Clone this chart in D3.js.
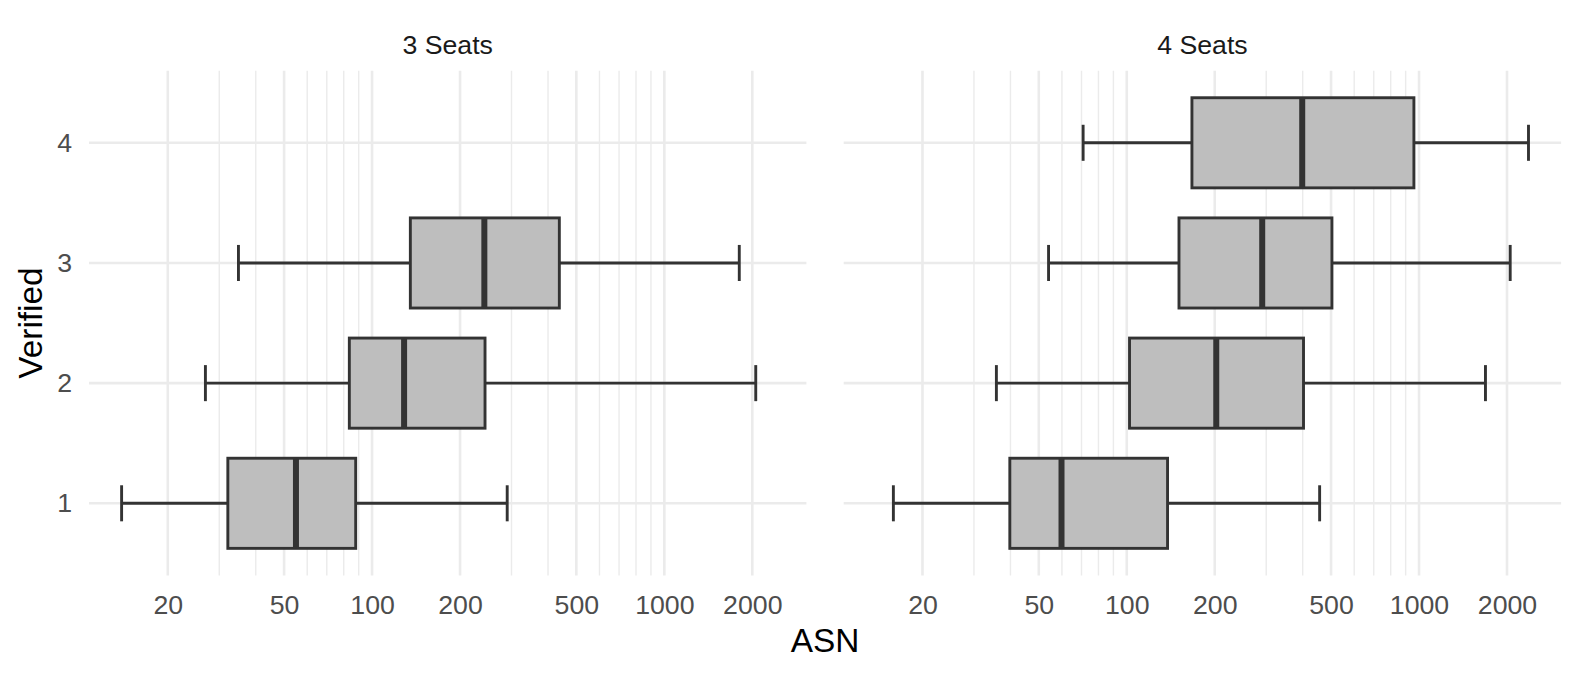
<!DOCTYPE html>
<html>
<head>
<meta charset="utf-8">
<script src="https://cdn.jsdelivr.net/npm/d3@7"></script>
<style>
  html, body { margin: 0; padding: 0; background: #ffffff; }
  svg { display: block; font-family: "Liberation Sans", Arial, Helvetica, sans-serif; }
</style>
</head>
<body>
<svg id="chart" width="1578" height="676"></svg>
<script>
// ---- Data ----
const panels = ["3 Seats", "4 Seats"];
const verifiedLevels = ["1", "2", "3", "4"];

// 3 Seats (Verified 1..3)
const s3Cats = ["1", "2", "3"];
const s3Low  = [13.9, 26.9, 34.9];
const s3Q1   = [32.1, 83.6, 135.2];
const s3Med  = [54.9, 128.7, 242.2];
const s3Q3   = [87.9, 243.5, 437.3];
const s3High = [290, 2055, 1805];

// 4 Seats (Verified 1..4)
const s4Cats = ["1", "2", "3", "4"];
const s4Low  = [15.9, 35.8, 54.0, 70.9];
const s4Q1   = [39.8, 102.2, 150.9, 167.1];
const s4Med  = [59.8, 202.4, 290.7, 398.4];
const s4Q3   = [137.9, 402.5, 503.5, 960.5];
const s4High = [457, 1688, 2051, 2369];

const majorTicks = [20, 50, 100, 200, 500, 1000, 2000];
const minorTicks = [30, 40, 60, 70, 80, 90, 300, 400, 600, 700, 800, 900];

const xTitle = "ASN";
const yTitle = "Verified";

// ---- Layout ----
const svg = d3.select("#chart");
const panelLeft = [89, 843.7];
const panelW = 717.4;
const panelTop = 70.7, panelBottom = 575.4;
const tickFont = 26.7, titleFont = 33.4;
const boxFill = "#BEBEBE", ink = "#333333", grid = "#EBEBEB";
const lineW = 2.9, medW = 6;

function build(cats, lo, q1, med, q3, hi) {
  return cats.map((c, i) => ({ cat: c, lo: lo[i], q1: q1[i], med: med[i], q3: q3[i], hi: hi[i] }));
}
const panelData = [
  build(s3Cats, s3Low, s3Q1, s3Med, s3Q3, s3High),
  build(s4Cats, s4Low, s4Q1, s4Med, s4Q3, s4High)
];

// shared log domain with 5% expansion (in log space)
const allVals = panelData.flat().flatMap(d => [d.lo, d.hi]);
const lmin = Math.log10(d3.min(allVals)), lmax = Math.log10(d3.max(allVals));
const pad = (lmax - lmin) * 0.05;
const xDomain = [Math.pow(10, lmin - pad), Math.pow(10, lmax + pad)];

const y = d3.scalePoint().domain(verifiedLevels.slice().reverse()).range([panelTop, panelBottom]).padding(0.6);
const step = y.step();
const boxH = step * 0.75, capH = step * 0.3;

panelData.forEach((data, p) => {
  const x0 = panelLeft[p];
  const x = d3.scaleLog().domain(xDomain).range([x0, x0 + panelW]);
  const g = svg.append("g");

  // grid
  g.append("g").selectAll("line").data(minorTicks).join("line")
    .attr("x1", d => x(d)).attr("x2", d => x(d))
    .attr("y1", panelTop).attr("y2", panelBottom)
    .attr("stroke", grid).attr("stroke-width", 1.4);
  g.append("g").selectAll("line").data(majorTicks).join("line")
    .attr("x1", d => x(d)).attr("x2", d => x(d))
    .attr("y1", panelTop).attr("y2", panelBottom)
    .attr("stroke", grid).attr("stroke-width", 2.6);
  g.append("g").selectAll("line").data(verifiedLevels).join("line")
    .attr("x1", x0).attr("x2", x0 + panelW)
    .attr("y1", d => y(d)).attr("y2", d => y(d))
    .attr("stroke", grid).attr("stroke-width", 2.6);

  // strip title
  svg.append("text")
    .attr("x", x0 + panelW / 2).attr("y", 44.3)
    .attr("dy", "0.358em")
    .attr("text-anchor", "middle")
    .attr("font-size", tickFont).attr("fill", "#1A1A1A")
    .text(panels[p]);

  // x axis
  const ax = svg.append("g").attr("transform", `translate(0,${panelBottom})`)
    .call(d3.axisBottom(x).tickValues(majorTicks).tickFormat(d3.format("d")).tickSize(0).tickPadding(20));
  ax.select(".domain").remove();
  ax.selectAll("text").attr("font-size", tickFont).attr("fill", "#4D4D4D")
    .attr("font-family", "Liberation Sans, Arial, sans-serif");

  // boxes
  const b = g.append("g").selectAll("g").data(data).join("g");
  // whiskers
  b.append("line")
    .attr("x1", d => x(d.lo)).attr("x2", d => x(d.q1))
    .attr("y1", d => y(d.cat)).attr("y2", d => y(d.cat))
    .attr("stroke", ink).attr("stroke-width", lineW);
  b.append("line")
    .attr("x1", d => x(d.q3)).attr("x2", d => x(d.hi))
    .attr("y1", d => y(d.cat)).attr("y2", d => y(d.cat))
    .attr("stroke", ink).attr("stroke-width", lineW);
  // caps
  b.append("line")
    .attr("x1", d => x(d.lo)).attr("x2", d => x(d.lo))
    .attr("y1", d => y(d.cat) - capH / 2).attr("y2", d => y(d.cat) + capH / 2)
    .attr("stroke", ink).attr("stroke-width", lineW);
  b.append("line")
    .attr("x1", d => x(d.hi)).attr("x2", d => x(d.hi))
    .attr("y1", d => y(d.cat) - capH / 2).attr("y2", d => y(d.cat) + capH / 2)
    .attr("stroke", ink).attr("stroke-width", lineW);
  // box
  b.append("rect")
    .attr("x", d => x(d.q1)).attr("width", d => x(d.q3) - x(d.q1))
    .attr("y", d => y(d.cat) - boxH / 2).attr("height", boxH)
    .attr("fill", boxFill).attr("stroke", ink).attr("stroke-width", lineW);
  // median
  b.append("line")
    .attr("x1", d => x(d.med)).attr("x2", d => x(d.med))
    .attr("y1", d => y(d.cat) - boxH / 2).attr("y2", d => y(d.cat) + boxH / 2)
    .attr("stroke", ink).attr("stroke-width", medW);
});

// y axis (left panel only)
const ay = svg.append("g").attr("transform", `translate(${panelLeft[0]},0)`)
  .call(d3.axisLeft(y).tickSize(0).tickPadding(17));
ay.select(".domain").remove();
ay.selectAll("text").attr("font-size", tickFont).attr("fill", "#4D4D4D")
  .attr("font-family", "Liberation Sans, Arial, sans-serif");

// axis titles
svg.append("text")
  .attr("x", (panelLeft[0] + panelLeft[1] + panelW) / 2).attr("y", 640)
  .attr("dy", "0.358em").attr("text-anchor", "middle")
  .attr("font-size", titleFont).attr("fill", "#000000")
  .text(xTitle);
svg.append("text")
  .attr("transform", `translate(30,${(panelTop + panelBottom) / 2}) rotate(-90)`)
  .attr("dy", "0.358em").attr("text-anchor", "middle")
  .attr("font-size", titleFont).attr("fill", "#000000")
  .text(yTitle);
</script>
</body>
</html>
